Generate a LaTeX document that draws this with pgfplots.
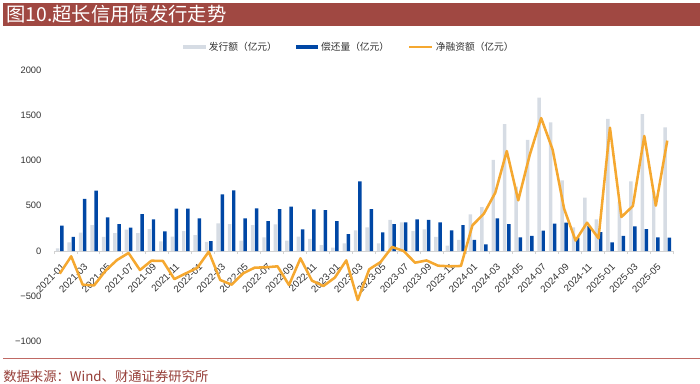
\documentclass[border=0pt]{standalone}
\usepackage{pgfplots}
\pgfplotsset{compat=1.18}
\usepackage{pgfplotstable}
\usepackage{fontspec}
\setmainfont{Liberation Sans}
\newfontfamily\cjk{Noto Sans CJK SC}
\definecolor{titlered}{RGB}{160,72,66}
\definecolor{srcred}{RGB}{150,62,56}
\definecolor{rulered}{RGB}{192,105,100}
\definecolor{barGray}{RGB}{214,220,228}
\definecolor{barBlue}{RGB}{0,71,165}
\definecolor{lineOrange}{RGB}{245,168,48}
\definecolor{axisGray}{RGB}{210,210,210}

\pgfplotstableread{
x gray blue net
0 30 280 -250
1 96 155 -59
2 203 575 -372
3 287 667 -380
4 155 372 -217
5 199 298 -99
6 236 258 -22
7 199 409 -210
8 243 350 -107
9 107 217 -110
10 158 468 -310
11 221 468 -247
12 175 361 -186
13 101 108 -7
14 306 626 -320
15 298 670 -372
16 114 361 -247
17 287 471 -184
18 151 331 -180
19 295 464 -169
20 114 490 -376
21 158 239 -81
22 133 460 -327
23 66 453 -387
24 37 331 -294
25 85 188 -103
26 228 770 -542
27 262 464 -202
28 85 206 -121
29 343 298 45
30 317 317 0
31 221 350 -129
32 239 343 -104
33 155 317 -162
34 59 228 -169
35 122 287 -165
36 405 122 283
37 486 74 412
38 1006 361 645
39 1403 298 1105
40 711 151 560
41 1227 166 1061
42 1694 225 1469
43 1422 302 1120
44 781 313 468
45 262 147 115
46 589 276 313
47 350 210 140
48 1459 96 1363
49 542 166 376
50 770 273 497
51 1514 243 1271
52 652 151 501
53 1367 147 1220
}\data

\begin{document}
\begin{tikzpicture}
\path[use as bounding box] (0,0) rectangle (525pt,287.25pt);
\begin{scope}[x=0.75pt,y=0.75pt]
\fill[titlered] (3,380) rectangle (700,357);
\node[anchor=west, text=white, inner sep=0pt] at (6,368.5) {\cjk\fontsize{14.5}{16}\selectfont 图10.超长信用债发行走势};
\draw[rulered, line width=0.75pt] (3,25) -- (700,25);
\node[anchor=west, text=srcred, inner sep=0pt] at (3,7) {\cjk\fontsize{10}{12}\selectfont 数据来源：Wind、财通证券研究所};
\end{scope}
\begin{axis}[
  at={(40.5pt,31.125pt)}, anchor=south west,
  scale only axis, width=464.25pt, height=203.6pt,
  xmin=-0.5, xmax=53.5, ymin=-1000, ymax=2000,
  axis x line=middle, axis y line=left,
  x axis line style={draw=axisGray, line width=0.75pt, -},
  y axis line style={draw=none},
  ytick={-1000,-500,0,500,1000,1500,2000},
  yticklabels={−1000,−500,0,500,1000,1500,2000},
  ytick style={draw=none},
  yticklabel style={inner sep=0pt, xshift=-5pt, font=\fontsize{7}{8}\selectfont, text=black!80},
  xtick={0,2,...,52},
  xticklabels={2021-01,2021-03,2021-05,2021-07,2021-09,2021-11,2022-01,2022-03,2022-05,2022-07,2022-09,2022-11,2023-01,2023-03,2023-05,2023-07,2023-09,2023-11,2024-01,2024-03,2024-05,2024-07,2024-09,2024-11,2025-01,2025-03,2025-05},
  minor xtick={-0.5,1.5,...,53.5},
  major x tick style={draw=none},
  minor x tick style={draw=axisGray, line width=0.6pt},
  tick align=outside,
  minor tick length=2.25pt,
  xticklabel style={xshift=2.6pt, yshift=-6.4pt, rotate=45, anchor=east, inner sep=0pt, font=\fontsize{7.3}{8}\selectfont, text=black!80},
  legend style={at={(0.478,1.085)}, anchor=center, draw=none, fill=none,
    font=\cjk\fontsize{7.3}{9}\selectfont, text=black!80,
    /tikz/every even column/.append style={column sep=12pt}},
  legend columns=3,
  clip=false,
]
\addplot[ybar, bar width=2.6pt, bar shift=-1.55pt, fill=barGray, draw=none,
  legend image code/.code={\fill[barGray] (0cm,-1.5pt) rectangle (0.6cm,1.5pt);}]
  table[x=x, y=gray]{\data};
\addlegendentry{发行额（亿元）}
\addplot[ybar, bar width=2.6pt, bar shift=1.55pt, fill=barBlue, draw=none,
  legend image code/.code={\fill[barBlue] (0cm,-1.5pt) rectangle (0.6cm,1.5pt);}]
  table[x=x, y=blue]{\data};
\addlegendentry{偿还量（亿元）}
\addplot[lineOrange, line width=1.9pt, no markers, line join=round]
  table[x=x, y=net]{\data};
\addlegendentry{净融资额（亿元）}
\end{axis}
\end{tikzpicture}
\end{document}
